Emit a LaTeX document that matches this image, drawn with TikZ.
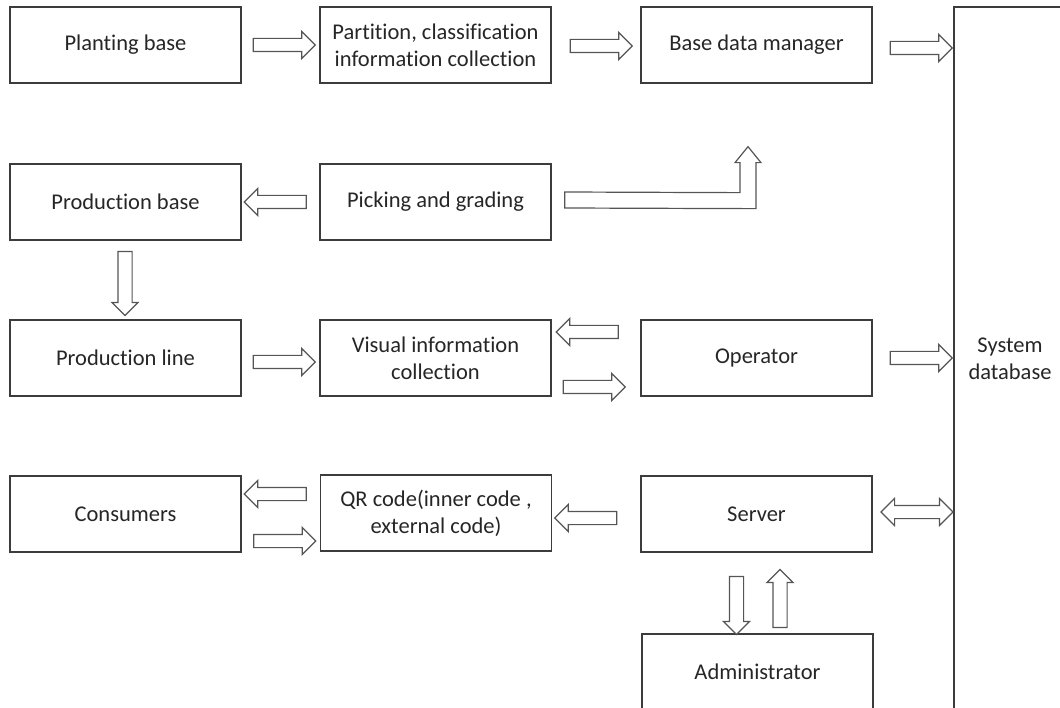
\documentclass[tikz,border=0pt]{standalone}
\usepackage{fontspec}
\setmainfont{Carlito}[Ligatures=NoCommon]
\usetikzlibrary{shapes.arrows,calc}
\definecolor{boxc}{RGB}{60,60,60}
\definecolor{arrc}{RGB}{85,85,85}
\begin{document}
\begin{tikzpicture}[x=1pt,y=-1pt,
  box/.style={draw=boxc, line width=1.3pt, minimum width=231pt, minimum height=76pt,
    inner sep=0pt, align=center, font=\fontsize{22.5}{27}\selectfont, text=black!85},
  barrow/.style={draw=arrc, line width=1.2pt, shape=single arrow, single arrow head extend=7pt,
    inner xsep=0pt, inner ysep=6pt, minimum height=62pt, minimum width=26pt, fill=white},
  varrow/.style={draw=arrc, line width=1.2pt, shape=single arrow, single arrow head extend=6pt,
    inner ysep=0pt, inner xsep=6.5pt, minimum height=58pt, minimum width=25pt, fill=white},
  darrow/.style={draw=arrc, line width=1.2pt, shape=double arrow, double arrow head extend=7pt,
    inner xsep=0pt, inner ysep=6pt, minimum height=72pt, minimum width=26pt, fill=white}]
\useasboundingbox (0,0) rectangle (1060,708);
\clip (0,0) rectangle (1060,708);
% boxes
\node[box] (plant) at (125.5,45) {Planting base};
\node[box] (part) at (435.5,45) {Partition, classification\\information collection};
\node[box] (bdm) at (756.5,45) {Base data manager};
\node[box] (pbase) at (125.5,202) {Production base};
\node[box] (pick) at (435.5,202) {Picking and grading};
\node[box] (pline) at (125.5,358) {Production line};
\node[box] (vis) at (435.5,358) {Visual information\\collection};
\node[box] (oper) at (756.5,358) {Operator};
\node[box] (cons) at (125.5,514) {Consumers};
\node[box] (qr) at (436,513) {QR code(inner code ,\\external code)};
\node[box] (server) at (756.5,514) {Server};
\node[box] (admin) at (757.5,672) {Administrator};
\node[box, minimum width=112pt, minimum height=713pt] (sysdb) at (1010,363.5) {};
\node[font=\fontsize{22.5}{27}\selectfont, text=black!85, align=center] (sysdbt) at (1010,359) {System\\database};
% block arrows
\node[barrow] (a1) at (281,45) {};
\node[barrow] (a2) at (598,46) {};
\node[barrow] (a3) at (918,48) {};
\node[barrow, shape border rotate=180] (a4) at (278.5,202) {};
\node[varrow, shape border rotate=270, minimum height=64pt] (a6) at (125,280) {};
\node[barrow] (a7) at (281,362) {};
\node[barrow, shape border rotate=180] (a8) at (590.5,332) {};
\node[barrow] (a9) at (591,387) {};
\node[barrow] (a10) at (918,358) {};
\node[barrow, shape border rotate=180] (a11) at (278.5,494) {};
\node[barrow] (a12) at (281.5,541) {};
\node[barrow, shape border rotate=180] (a13) at (589,518) {};
\node[darrow] (a14) at (917,512) {};
\node[varrow, shape border rotate=270] (a15) at (736.5,602) {};
\node[varrow, shape border rotate=90] (a16) at (780,602) {};
% bent arrow from picking to base data manager
\coordinate (b0) at ($(pick.east)+(13,-10)$);
\coordinate (b1) at ($(pick.east)+(13,6)$);
\coordinate (tip) at ($(bdm.south)+(-8.5,63)$);
\draw[draw=arrc, line width=1.2pt, fill=white, line join=miter]
  (b0) -- ($(tip)+(-8,46)$) -- ($(tip)+(-8,16)$) -- ($(tip)+(-13,16)$) -- (tip)
  -- ($(tip)+(13,16)$) -- ($(tip)+(8,16)$) -- ($(tip)+(8,62)$) -- (b1) -- cycle;
\end{tikzpicture}
\end{document}
